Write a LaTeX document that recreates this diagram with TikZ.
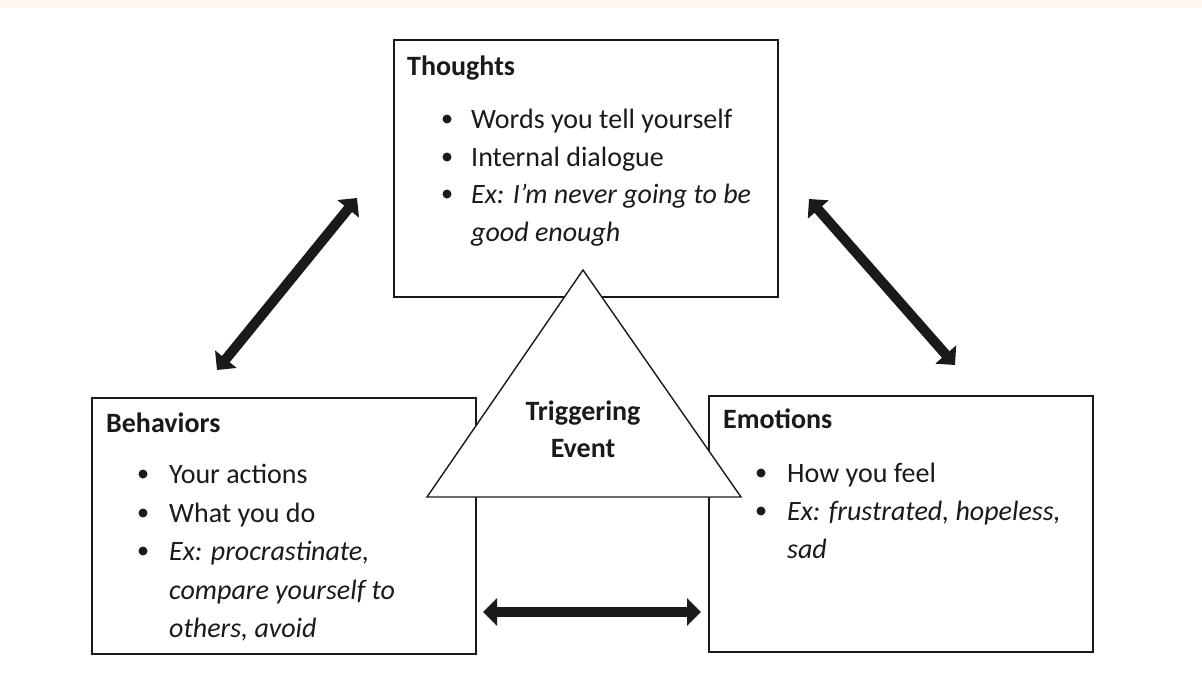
\documentclass[tikz,border=0pt]{standalone}
\usepackage{fontspec}
\setmainfont{Carlito}
\usetikzlibrary{arrows.meta}
\definecolor{strip}{HTML}{FFF6F1}
\definecolor{ink}{HTML}{1A1A1A}
\begin{document}
\begin{tikzpicture}[x=1pt,y=-1pt,
  box/.style={draw=ink, line width=1.8pt, inner sep=0pt, anchor=north west, fill=white},
  head/.style={font=\bfseries\fontsize{28}{34}\selectfont, text=ink, anchor=base west, inner sep=0pt},
  item/.style={font=\fontsize{28}{34}\selectfont, text=ink, anchor=base west, inner sep=0pt},
  ex/.style={item, font=\itshape\fontsize{28}{34}\selectfont},
  trig/.style={font=\bfseries\fontsize{28}{34}\selectfont, text=ink, anchor=base, inner sep=0pt},
  dot/.style={circle, fill=ink, inner sep=0pt, minimum size=9pt},
  tri/.style={draw=ink, line width=1.4pt, fill=white, line join=miter},
  dbl/.style={draw=ink, line width=10pt, {Triangle[length=14pt,width=27pt]}-{Triangle[length=14pt,width=27pt]}}
]
\useasboundingbox (0,0) rectangle (1202,675);
\fill[white] (0,0) rectangle (1202,675);
\fill[strip] (0,0) rectangle (1202,8);

% boxes
\node[box, minimum width=384pt, minimum height=257pt] (thoughts) at (393,39) {};
\node[box, minimum width=384pt, minimum height=256pt] (behaviors) at (91,397) {};
\node[box, minimum width=384pt, minimum height=256pt] (emotions) at (708,395) {};

% triangle
\draw[tri] (583,270) -- (427,497) -- (741,497) -- cycle;
\node[trig] (trig1) at (583,420) {Triggering};
\node[trig] (trig2) at (583,457) {Event};

% Thoughts text
\node[head] (th) at (407,75) {Thoughts};
\node[dot] (thd1) at (447,119) {};
\node[dot] (thd2) at (447,157) {};
\node[dot] (thd3) at (447,194) {};
\node[item] (th1) at (471,128) {Words you tell yourself};
\node[item] (th2) at (471,166) {Internal dialogue};
\node[ex] (th3) at (471,203) {Ex: I’m never going to be};
\node[ex] (th4) at (471,241) {good enough};

% Behaviors text
\node[head] (bh) at (106,432) {Behaviors};
\node[dot] (bhd1) at (143,474) {};
\node[dot] (bhd2) at (143,513) {};
\node[dot] (bhd3) at (143,551) {};
\node[item] (bh1) at (169,483) {Your actions};
\node[item] (bh2) at (169,522) {What you do};
\node[ex] (bh3) at (169,560) {Ex: procrastinate,};
\node[ex] (bh4) at (169,599) {compare yourself to};
\node[ex] (bh5) at (169,637) {others, avoid};

% Emotions text
\node[head] (em) at (723,428) {Emotions};
\node[dot] (emd1) at (761,473) {};
\node[dot] (emd2) at (761,511) {};
\node[item] (em1) at (787,482) {How you feel};
\node[ex] (em2) at (787,520) {Ex: frustrated, hopeless,};
\node[ex] (em3) at (787,558) {sad};

% arrows
\coordinate (a1s) at (217,370);
\coordinate (a1e) at (357,198);
\coordinate (a2s) at (809,199);
\coordinate (a2e) at (955,365);
\coordinate (a3s) at (483,612);
\coordinate (a3e) at (701,612);
\draw[dbl] (a1s) -- (a1e);
\draw[dbl] (a2s) -- (a2e);
\draw[dbl] (a3s) -- (a3e);
\end{tikzpicture}
\end{document}
